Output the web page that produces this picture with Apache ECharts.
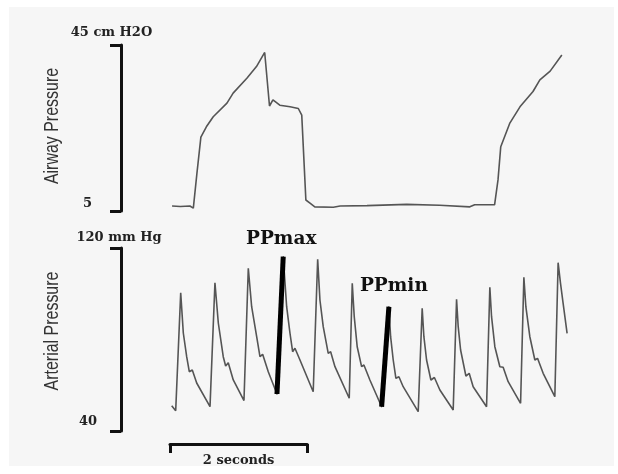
<!DOCTYPE html>
<html>
<head>
<meta charset="utf-8">
<script src="https://cdn.jsdelivr.net/npm/echarts@6/dist/echarts.min.js"></script>
<style>
  html, body { margin: 0; padding: 0; background: #ffffff; }
  #bg { position: absolute; left: 9px; top: 7px; width: 605px; height: 459px; background: #f6f6f6; }
  #chart { position: absolute; left: 0; top: 0; width: 618px; height: 474px; }
</style>
</head>
<body>
<div id="bg"></div>
<div id="chart"></div>
<script>
// ---- Data (time in seconds) ----
const airwayTime = [0.03, 0.15, 0.29, 0.34, 0.39, 0.45, 0.53, 0.63, 0.83, 0.92, 1.12, 1.26, 1.38,
  1.45, 1.50, 1.60, 1.75, 1.87, 1.92, 1.98, 2.04, 2.11, 2.38, 2.48, 2.87, 3.45, 3.93, 4.37, 4.44,
  4.73, 4.78, 4.82, 4.95, 5.10, 5.29, 5.39, 5.54, 5.71];
const airwayPressure = [6.2, 6.1, 6.2, 5.7, 13.7, 22.8, 25.3, 27.7, 31.0, 33.4, 37.0, 39.8, 43.2,
  30.3, 31.8, 30.5, 30.1, 29.7, 28.1, 7.65, 6.9, 6.0, 5.9, 6.2, 6.3, 6.6, 6.4, 6.0, 6.5,
  6.5, 12.5, 20.5, 26.1, 30.1, 33.8, 36.6, 38.7, 42.6];

const arterialTime = [
  0.025, 0.083, 0.156, 0.194, 0.243, 0.281, 0.325, 0.389, 0.583,
  0.655, 0.704, 0.776, 0.811, 0.849, 0.922, 1.078,
  1.141, 1.190, 1.263, 1.311, 1.350, 1.432, 1.559,
  1.650, 1.700, 1.748, 1.787, 1.821, 1.894, 2.087,
  2.152, 2.185, 2.233, 2.306, 2.341, 2.404, 2.612,
  2.656, 2.685, 2.728, 2.792, 2.826, 2.913, 3.084,
  3.190, 3.215, 3.253, 3.292, 3.336, 3.398, 3.617,
  3.675, 3.700, 3.739, 3.802, 3.853, 3.933, 4.127,
  4.176, 4.200, 4.235, 4.312, 4.360, 4.418, 4.613,
  4.661, 4.686, 4.734, 4.807, 4.855, 4.928, 5.109,
  5.157, 5.186, 5.244, 5.317, 5.356, 5.438, 5.608,
  5.656, 5.691, 5.729, 5.787];
const arterialPressure = [
  51.06, 48.87, 100.46, 82.84, 72.48, 65.92, 66.67, 60.98, 50.62,
  104.83, 87.21, 72.48, 68.42, 69.86, 62.30, 53.33,
  111.13, 94.34, 81.22, 72.48, 73.53, 65.92, 56.17,
  116.20, 94.34, 82.84, 74.67, 76.15, 71.04, 57.18,
  115.06, 97.27, 85.60, 73.97, 74.67, 68.11, 54.30,
  104.57, 89.97, 76.85, 68.11, 68.85, 62.30, 50.62,
  94.34, 81.22, 71.04, 63.04, 63.74, 59.37, 48.44,
  93.64, 81.22, 71.04, 62.30, 63.39, 57.92, 49.18,
  97.57, 85.60, 75.41, 64.04, 65.22, 59.37, 50.62,
  102.82, 89.97, 76.85, 68.11, 67.85, 61.55, 52.11,
  107.19, 94.34, 81.22, 71.04, 71.78, 65.22, 54.99,
  113.57, 104.57, 95.83, 82.70];

// Pulse-pressure markers: rising stroke from arterial point index -> index+1
const markerLabels = ['PPmax', 'PPmin'];
const markerStart = [22, 43];

// Axis scale marks
const airwayTicks = [5, 45];
const airwayTopLabel = '45 cm H2O';
const arterialTicks = [40, 120];
const arterialTopLabel = '120 mm Hg';
const axisTitles = ['Airway Pressure', 'Arterial Pressure'];
const timeBar = [0, 2];
const timeBarLabel = '2 seconds';

// Layout
const X_MAX = 5.8;
const TRACE_LEFT = 170, TRACE_WIDTH = 398;       // t = 0 .. X_MAX
const AXIS_LEFT = 121;                           // bracket axis position
const PX_PER_S = TRACE_WIDTH / X_MAX;
const X_MIN = -(TRACE_LEFT - AXIS_LEFT) / PX_PER_S;

function pairs(xs, ys) { return xs.map((x, i) => [x, ys[i]]); }

const serifBold = { fontFamily: 'DejaVu Serif', fontWeight: 'bold', fontSize: 13, color: '#222' };
const bracketLine = { show: true, onZero: false, lineStyle: { color: '#111', width: 3 } };

const markerSeries = markerLabels.map((name, k) => {
  const i = markerStart[k];
  return {
    name: name, type: 'line', xAxisIndex: 1, yAxisIndex: 1,
    symbol: 'circle', symbolSize: 1, itemStyle: { color: '#000' },
    lineStyle: { color: '#000', width: 5 },
    z: 5,
    data: [
      [arterialTime[i], arterialPressure[i]],
      { value: [arterialTime[i + 1], arterialPressure[i + 1]],
        label: { show: true, formatter: name, position: 'top',
          distance: k === 0 ? 8 : 11, offset: k === 0 ? [-2, 0] : [5, 0],
          fontFamily: 'DejaVu Serif', fontWeight: 'bold', fontSize: 18.5, color: '#111' } }
    ]
  };
});

const chart = echarts.init(document.getElementById('chart'), null, { renderer: 'canvas' });
chart.setOption({
  animation: false,
  backgroundColor: 'transparent',
  grid: [
    { left: AXIS_LEFT, top: 45, width: TRACE_LEFT - AXIS_LEFT + TRACE_WIDTH, height: 166 },
    { left: AXIS_LEFT, top: 248, width: TRACE_LEFT - AXIS_LEFT + TRACE_WIDTH, height: 183 },
    { left: TRACE_LEFT, top: 443, width: PX_PER_S * (timeBar[1] - timeBar[0]), height: 1 }
  ],
  xAxis: [
    { gridIndex: 0, type: 'value', min: X_MIN, max: X_MAX, show: false },
    { gridIndex: 1, type: 'value', min: X_MIN, max: X_MAX, show: false },
    { gridIndex: 2, type: 'value', min: timeBar[0], max: timeBar[1],
      axisLine: bracketLine,
      axisTick: { show: true, customValues: timeBar, length: 9, lineStyle: { color: '#111', width: 3 } },
      axisLabel: { show: false }, splitLine: { show: false },
      name: timeBarLabel, nameLocation: 'middle', nameGap: 10, nameTextStyle: serifBold }
  ],
  yAxis: [
    { gridIndex: 0, type: 'value', min: airwayTicks[0], max: airwayTicks[1],
      axisLine: bracketLine,
      axisTick: { show: true, customValues: airwayTicks, length: 11, lineStyle: { color: '#111', width: 3 } },
      axisLabel: Object.assign({ customValues: [airwayTicks[0]], margin: 29, verticalAlign: 'bottom', padding: [0, 0, 1, 0] }, serifBold),
      splitLine: { show: false },
      name: airwayTopLabel, nameLocation: 'end', nameGap: 6,
      nameTextStyle: Object.assign({ padding: [0, 19, 0, 0] }, serifBold) },
    { gridIndex: 1, type: 'value', min: arterialTicks[0], max: arterialTicks[1],
      axisLine: bracketLine,
      axisTick: { show: true, customValues: arterialTicks, length: 11, lineStyle: { color: '#111', width: 3 } },
      axisLabel: Object.assign({ customValues: [arterialTicks[0]], margin: 24, verticalAlign: 'bottom', padding: [0, 0, 3, 0] }, serifBold),
      splitLine: { show: false },
      name: arterialTopLabel, nameLocation: 'end', nameGap: 4,
      nameTextStyle: Object.assign({ padding: [0, 4, 0, 0] }, serifBold) },
    { gridIndex: 2, type: 'value', min: 0, max: 1, show: false }
  ],
  graphic: [
    { type: 'text', x: 52, y: 126, rotation: Math.PI / 2, scaleX: 0.76,
      style: { text: axisTitles[0], fontFamily: 'Liberation Sans', fontSize: 21, fill: '#333',
        align: 'center', verticalAlign: 'middle' } },
    { type: 'text', x: 52, y: 331, rotation: Math.PI / 2, scaleX: 0.76,
      style: { text: axisTitles[1], fontFamily: 'Liberation Sans', fontSize: 21, fill: '#333',
        align: 'center', verticalAlign: 'middle' } }
  ],
  series: [
    { name: 'Airway Pressure', type: 'line', xAxisIndex: 0, yAxisIndex: 0, symbol: 'none',
      lineStyle: { color: '#555', width: 1.6 }, data: pairs(airwayTime, airwayPressure) },
    { name: 'Arterial Pressure', type: 'line', xAxisIndex: 1, yAxisIndex: 1, symbol: 'none',
      lineStyle: { color: '#555', width: 1.6 }, data: pairs(arterialTime, arterialPressure) }
  ].concat(markerSeries)
});
</script>
</body>
</html>
